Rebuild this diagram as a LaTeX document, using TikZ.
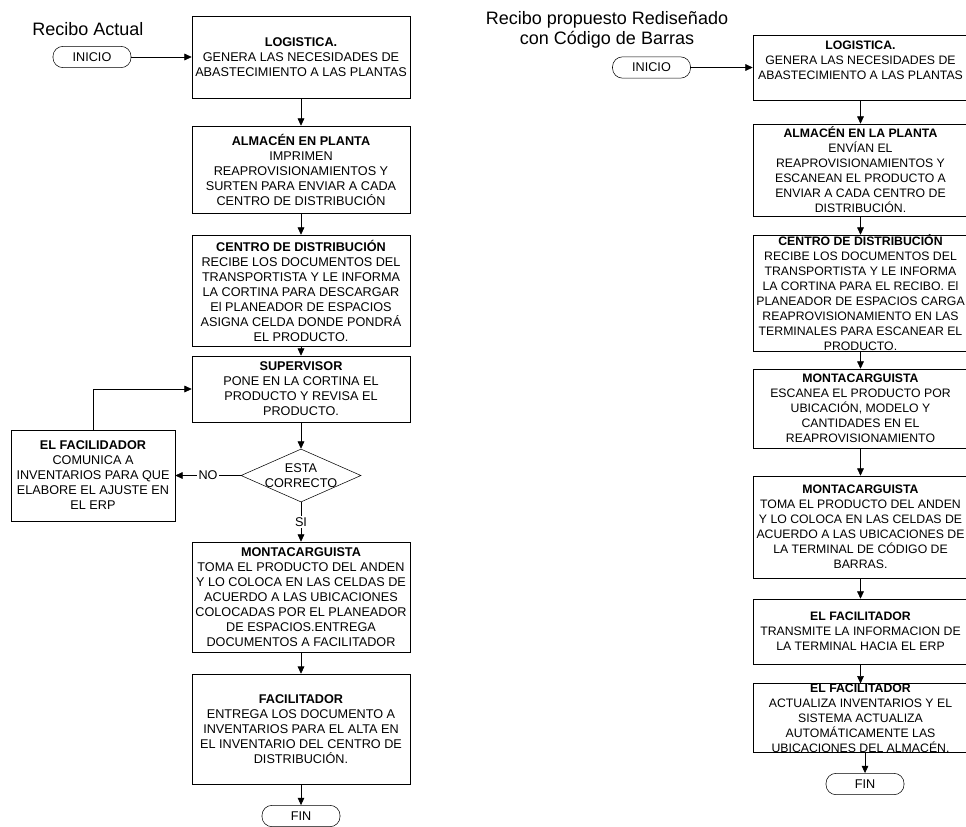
\documentclass[tikz,border=0pt]{standalone}
\usepackage{fontspec}
\setmainfont{Liberation Sans}
\usetikzlibrary{arrows.meta,shapes.geometric}

\begin{document}
\begin{tikzpicture}[x=0.75pt,y=-0.75pt,
    font=\fontsize{9.5}{11.25}\selectfont,
    box/.style={draw,rectangle,align=center,inner sep=0pt,minimum width=163.5pt},
    boxr/.style={box,minimum width=161.25pt,font=\fontsize{9.2}{11.25}\selectfont},
    term/.style={draw,rectangle,rounded corners=7.5pt,minimum width=58.5pt,minimum height=16pt,inner sep=0pt},
    decision/.style={draw,diamond,minimum width=90pt,minimum height=39.75pt,inner sep=0pt},
    flecha/.style={-{Triangle[length=5.5pt,width=5pt]},line width=0.5pt},
    titulo/.style={font=\fontsize{13.5}{15.5}\selectfont,align=center}]
\clip (0,0) rectangle (966,826);

% Recibo actual
\node[titulo] (tit1) at (88,29) {Recibo Actual};
\node[term] (ini1) at (92,57) {INICIO};
\node[box,minimum height=61.5pt] (log1) at (301,57) {\textbf{LOGISTICA.}\\GENERA LAS NECESIDADES DE\\ABASTECIMIENTO A LAS PLANTAS};
\node[box,minimum height=65.25pt] (alm1) at (301,169.5) {\textbf{ALMACÉN EN  PLANTA}\\IMPRIMEN\\REAPROVISIONAMIENTOS Y\\SURTEN  PARA ENVIAR A CADA\\CENTRO DE DISTRIBUCIÓN};
\node[box,minimum height=83.25pt] (cen1) at (301,290.5) {\textbf{CENTRO DE DISTRIBUCIÓN}\\RECIBE LOS DOCUMENTOS DEL\\TRANSPORTISTA Y LE INFORMA\\LA CORTINA PARA DESCARGAR\\El PLANEADOR DE ESPACIOS\\ASIGNA CELDA DONDE PONDRÁ\\EL PRODUCTO.};
\node[box,minimum height=49.5pt] (sup1) at (301,389) {\textbf{SUPERVISOR}\\PONE EN LA CORTINA EL\\PRODUCTO Y REVISA EL\\PRODUCTO.};
\node[decision,label={[align=center]center:ESTA\\CORRECTO}] (dec1) at (301,475.5) {};
\node[box,minimum width=123pt,minimum height=68.25pt] (fac0) at (93,475.5) {\textbf{EL FACILIDADOR}\\COMUNICA A\\INVENTARIOS PARA QUE\\ELABORE EL AJUSTE EN\\EL ERP};
\node[box,minimum height=82.5pt] (mon1) at (301,597) {\textbf{MONTACARGUISTA}\\TOMA EL PRODUCTO DEL ANDEN\\Y LO COLOCA EN LAS CELDAS DE\\ACUERDO A LAS UBICACIONES\\COLOCADAS POR EL PLANEADOR\\DE ESPACIOS.ENTREGA\\DOCUMENTOS A FACILITADOR};
\node[box,minimum height=82.5pt] (fac1) at (301,729) {\textbf{FACILITADOR}\\ENTREGA LOS DOCUMENTO A\\INVENTARIOS PARA EL ALTA EN\\EL INVENTARIO DEL CENTRO DE\\DISTRIBUCIÓN.};
\node[term] (fin1) at (301,816) {FIN};

\draw[flecha] (ini1) -- (log1);
\draw[flecha] (log1) -- (alm1);
\draw[flecha] (alm1) -- (cen1);
\draw[flecha] (cen1) -- (sup1);
\draw[flecha] (sup1) -- (dec1);
\draw[flecha] (dec1) -- node[fill=white,inner sep=1pt] {NO} (fac0);
\draw[flecha] (fac0.north) |- (sup1.west);
\draw[flecha] (dec1) -- node[fill=white,inner sep=1pt] {SI} (mon1);
\draw[flecha] (mon1) -- (fac1);
\draw[flecha] (fac1) -- (fin1);

% Recibo propuesto
\node[titulo] (tit2) at (607,30) {Recibo propuesto Rediseñado\\con Código de Barras};
\node[term] (ini2) at (651.5,67.5) {INICIO};
\node[boxr,minimum height=48.75pt] (log2) at (860.5,67.5) {\textbf{LOGISTICA.}\\GENERA LAS NECESIDADES DE\\ABASTECIMIENTO A LAS PLANTAS\\ \mbox{}};
\node[boxr,minimum height=69pt] (alm2) at (860.5,170) {\textbf{ALMACÉN EN LA PLANTA}\\ENVÍAN EL\\REAPROVISIONAMIENTOS Y\\ESCANEAN EL PRODUCTO A\\ENVIAR  A CADA CENTRO DE\\DISTRIBUCIÓN.};
\node[boxr,minimum height=87pt] (cen2) at (860.5,293) {\textbf{CENTRO DE DISTRIBUCIÓN}\\RECIBE LOS DOCUMENTOS DEL\\TRANSPORTISTA Y LE INFORMA\\LA CORTINA PARA EL RECIBO. El\\PLANEADOR DE ESPACIOS CARGA\\REAPROVISIONAMIENTO EN LAS\\TERMINALES PARA ESCANEAR EL\\PRODUCTO.};
\node[boxr,minimum height=59.25pt] (mon2) at (860.5,408.5) {\textbf{MONTACARGUISTA}\\ESCANEA EL PRODUCTO POR\\UBICACIÓN, MODELO Y\\CANTIDADES EN EL\\REAPROVISIONAMIENTO};
\node[boxr,minimum height=76.5pt] (mon3) at (860.5,527) {\textbf{MONTACARGUISTA}\\TOMA EL PRODUCTO DEL ANDEN\\Y LO COLOCA EN LAS CELDAS DE\\ACUERDO A LAS UBICACIONES DE\\LA TERMINAL DE CÓDIGO DE\\BARRAS.};
\node[boxr,minimum height=48.75pt] (fac2) at (860.5,631.5) {\textbf{EL FACILITADOR}\\TRANSMITE LA INFORMACION DE\\LA TERMINAL HACIA EL ERP};
\node[boxr,minimum height=48pt] (fac3) at (860.5,718) {\textbf{EL FACILITADOR}\\ACTUALIZA INVENTARIOS Y EL\\SISTEMA ACTUALIZA\\AUTOMÁTICAMENTE LAS\\UBICACIONES DEL ALMACÉN.};
\node[term] (fin2) at (865,784) {FIN};

\draw[flecha] (ini2) -- (log2);
\draw[flecha] (log2) -- (alm2);
\draw[flecha] (alm2) -- (cen2);
\draw[flecha] (cen2) -- (mon2);
\draw[flecha] (mon2) -- (mon3);
\draw[flecha] (mon3) -- (fac2);
\draw[flecha] (fac2) -- (fac3);
\draw[flecha] (fin2.north |- fac3.south) -- (fin2.north);
\end{tikzpicture}
\end{document}
